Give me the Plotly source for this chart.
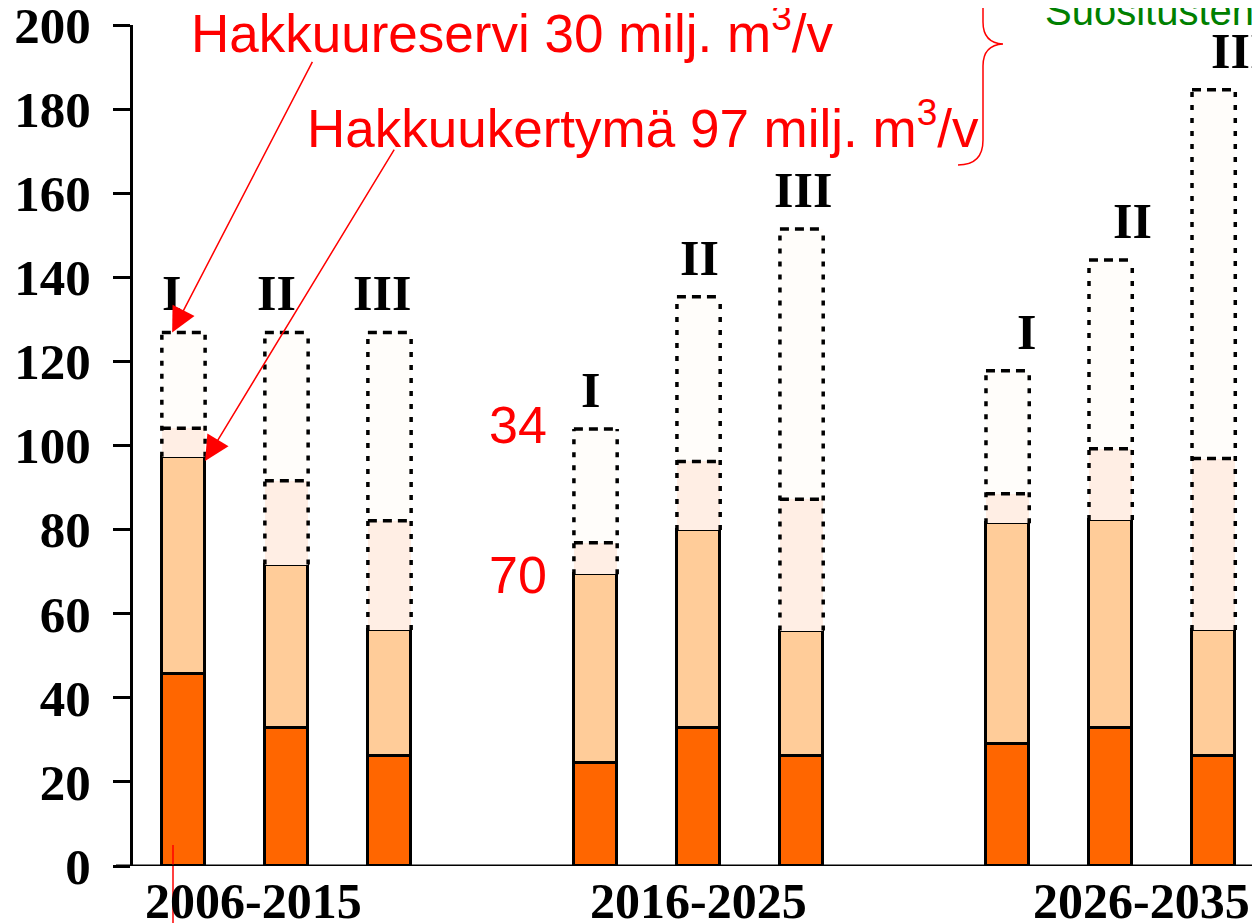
import plotly.graph_objects as go

# ---- data ----
periods = ["2006-2015", "2016-2025", "2026-2035"]
scenarios = ["I", "II", "III", "I", "II", "III", "I", "II", "III"]
xpos = [0, 1, 2, 4, 5, 6, 8, 9, 10]
dark = [45.7, 32.9, 26.1, 24.6, 32.9, 26.2, 29.1, 32.9, 26.2]
light = [51.6, 38.8, 30.0, 44.8, 47.0, 29.8, 52.4, 49.4, 29.9]
pink = [6.8, 19.9, 26.0, 7.5, 16.3, 31.2, 7.0, 16.9, 40.8]
white = [22.8, 35.3, 44.8, 27.0, 39.2, 64.3, 29.3, 44.9, 87.7]
yticks = [0, 20, 40, 60, 80, 100, 120, 140, 160, 180, 200]

# ---- layout constants (screen pixels of the reference) ----
OFF = 8  # page body margin
W, H = 1260 - OFF, 923 - OFF
L, R, T, B = 133, 1260, 25, 866
BW = 0.42
SERIF = "Liberation Serif, Times New Roman, serif"
SANS = "Liberation Sans, Arial, sans-serif"


def px(xp):
    return (xp - L) / (R - L)


def py(yp):
    return (B - yp) / (B - T)


lo_top = [d + l for d, l in zip(dark, light)]
pk_top = [a + p for a, p in zip(lo_top, pink)]
total = [a + w for a, w in zip(pk_top, white)]

fig = go.Figure()
fig.add_bar(x=xpos, y=dark, width=BW, marker=dict(color="#FF6600", line=dict(color="black", width=3)))
fig.add_bar(x=xpos, y=light, width=BW, marker=dict(color="#FFCC99", line=dict(color="black", width=3)))
fig.add_bar(x=xpos, y=pink, width=BW, marker=dict(color="#FFEEE4", line=dict(width=0)))
fig.add_bar(x=xpos, y=white, width=BW, marker=dict(color="#FFFDFA", line=dict(width=0)))

# dotted outlines of the reserve segments
vx, vy, hx, hy = [], [], [], []
for x, a, b, c in zip(xpos, lo_top, pk_top, total):
    l, r = x - BW / 2, x + BW / 2
    vx += [l, l, None, r, r, None]
    vy += [a, c, None, a, c, None]
    hx += [l, r, None, l, r, None]
    hy += [c, c, None, b, b, None]
fig.add_scatter(x=vx, y=vy, mode="lines", line=dict(color="black", width=3.5, dash="5px,8px"), hoverinfo="skip")
fig.add_scatter(x=hx, y=hy, mode="lines", line=dict(color="black", width=3.5, dash="9px,6px"), hoverinfo="skip")

ann = []
label_dx = [-12, -10, -8, -5, 1, 1, 19, 22, 26]
for x, t, s, dx in zip(xpos, total, scenarios, label_dx):
    ann.append(dict(x=x, y=t, xref="x", yref="y", text=s, showarrow=False, yshift=39, xshift=dx,
                    yanchor="middle", font=dict(family=SERIF, size=50, color="black", weight="bold")))
cat_dx = [-33, 0, 31]
for gx, p, dx in zip([1, 5, 9], periods, cat_dx):
    ann.append(dict(x=gx, y=0, xref="x", yref="y", text=p, showarrow=False, yshift=-35, xshift=dx,
                    yanchor="middle", font=dict(family=SERIF, size=50, color="black", weight="bold")))

red = "#FF0000"
ann += [
    dict(x=px(189), y=py(29), xref="paper", yref="paper", xanchor="left", yanchor="middle", showarrow=False,
         text="Hakkuureservi 30 milj. m<sup>3</sup>/v", font=dict(family=SANS, size=53, color=red)),
    dict(x=px(305), y=py(124), xref="paper", yref="paper", xanchor="left", yanchor="middle", showarrow=False,
         text="Hakkuukertymä 97 milj. m<sup>3</sup>/v", font=dict(family=SANS, size=53, color=red)),
    dict(x=px(549), y=py(425), xref="paper", yref="paper", xanchor="right", yanchor="middle", showarrow=False,
         text="34", font=dict(family=SANS, size=52, color=red)),
    dict(x=px(549), y=py(575), xref="paper", yref="paper", xanchor="right", yanchor="middle", showarrow=False,
         text="70", font=dict(family=SANS, size=52, color=red)),
    dict(x=px(1043), y=py(11), xref="paper", yref="paper", xanchor="left", yanchor="middle", showarrow=False,
         text="Suositusten", font=dict(family=SANS, size=40, color="#008000")),
    # arrows
    dict(x=-0.11, y=total[0], xref="x", yref="y", ax=141, ay=-272, axref="pixel", ayref="pixel", text="",
         showarrow=True, arrowhead=2, arrowsize=3.3, arrowwidth=1.5, arrowcolor=red),
    dict(x=0.21, y=lo_top[0] - 1.0, xref="x", yref="y", ax=190, ay=-313, axref="pixel", ayref="pixel", text="",
         showarrow=True, arrowhead=2, arrowsize=3.3, arrowwidth=1.5, arrowcolor=red),
]

shapes = [
    # brace
    dict(type="path", xref="paper", yref="paper", line=dict(color=red, width=1.5),
         path=(f"M {px(958)} {py(165)} Q {px(983)} {py(165)} {px(983)} {py(140)} "
               f"L {px(983)} {py(66)} Q {px(983)} {py(45)} {px(1003)} {py(44)} "
               f"Q {px(983)} {py(43)} {px(983)} {py(22)} L {px(983)} {py(-10)}")),
    # red vertical line near axis
    dict(type="line", xref="paper", yref="paper", x0=px(173), x1=px(173), y0=py(845), y1=py(930),
         line=dict(color=red, width=1.5)),
    # x axis baseline
    dict(type="line", xref="paper", yref="y", x0=px(116), x1=1, y0=0, y1=0,
         line=dict(color="black", width=3), layer="above"),
]

fig.update_layout(
    width=W, height=H, barmode="stack", showlegend=False, bargap=0,
    margin=dict(l=L - OFF, r=0, t=T - OFF, b=923 - B, autoexpand=False),
    paper_bgcolor="white", plot_bgcolor="white",
    annotations=ann, shapes=shapes,
    xaxis=dict(range=[-0.49, 10.45], showgrid=False, zeroline=False, showticklabels=False, ticks="",
               showline=False, automargin=False),
    yaxis=dict(range=[0, 200], tickvals=yticks, showgrid=False, zeroline=False, showline=True,
               linecolor="black", linewidth=3, ticks="outside", ticklen=17, tickwidth=3, tickcolor="black",
               ticklabelstandoff=12, ticklabeloverflow="allow", automargin=False,
               tickfont=dict(family=SERIF, size=51, color="black", weight="bold")),
)

fig.write_html("out.html")
